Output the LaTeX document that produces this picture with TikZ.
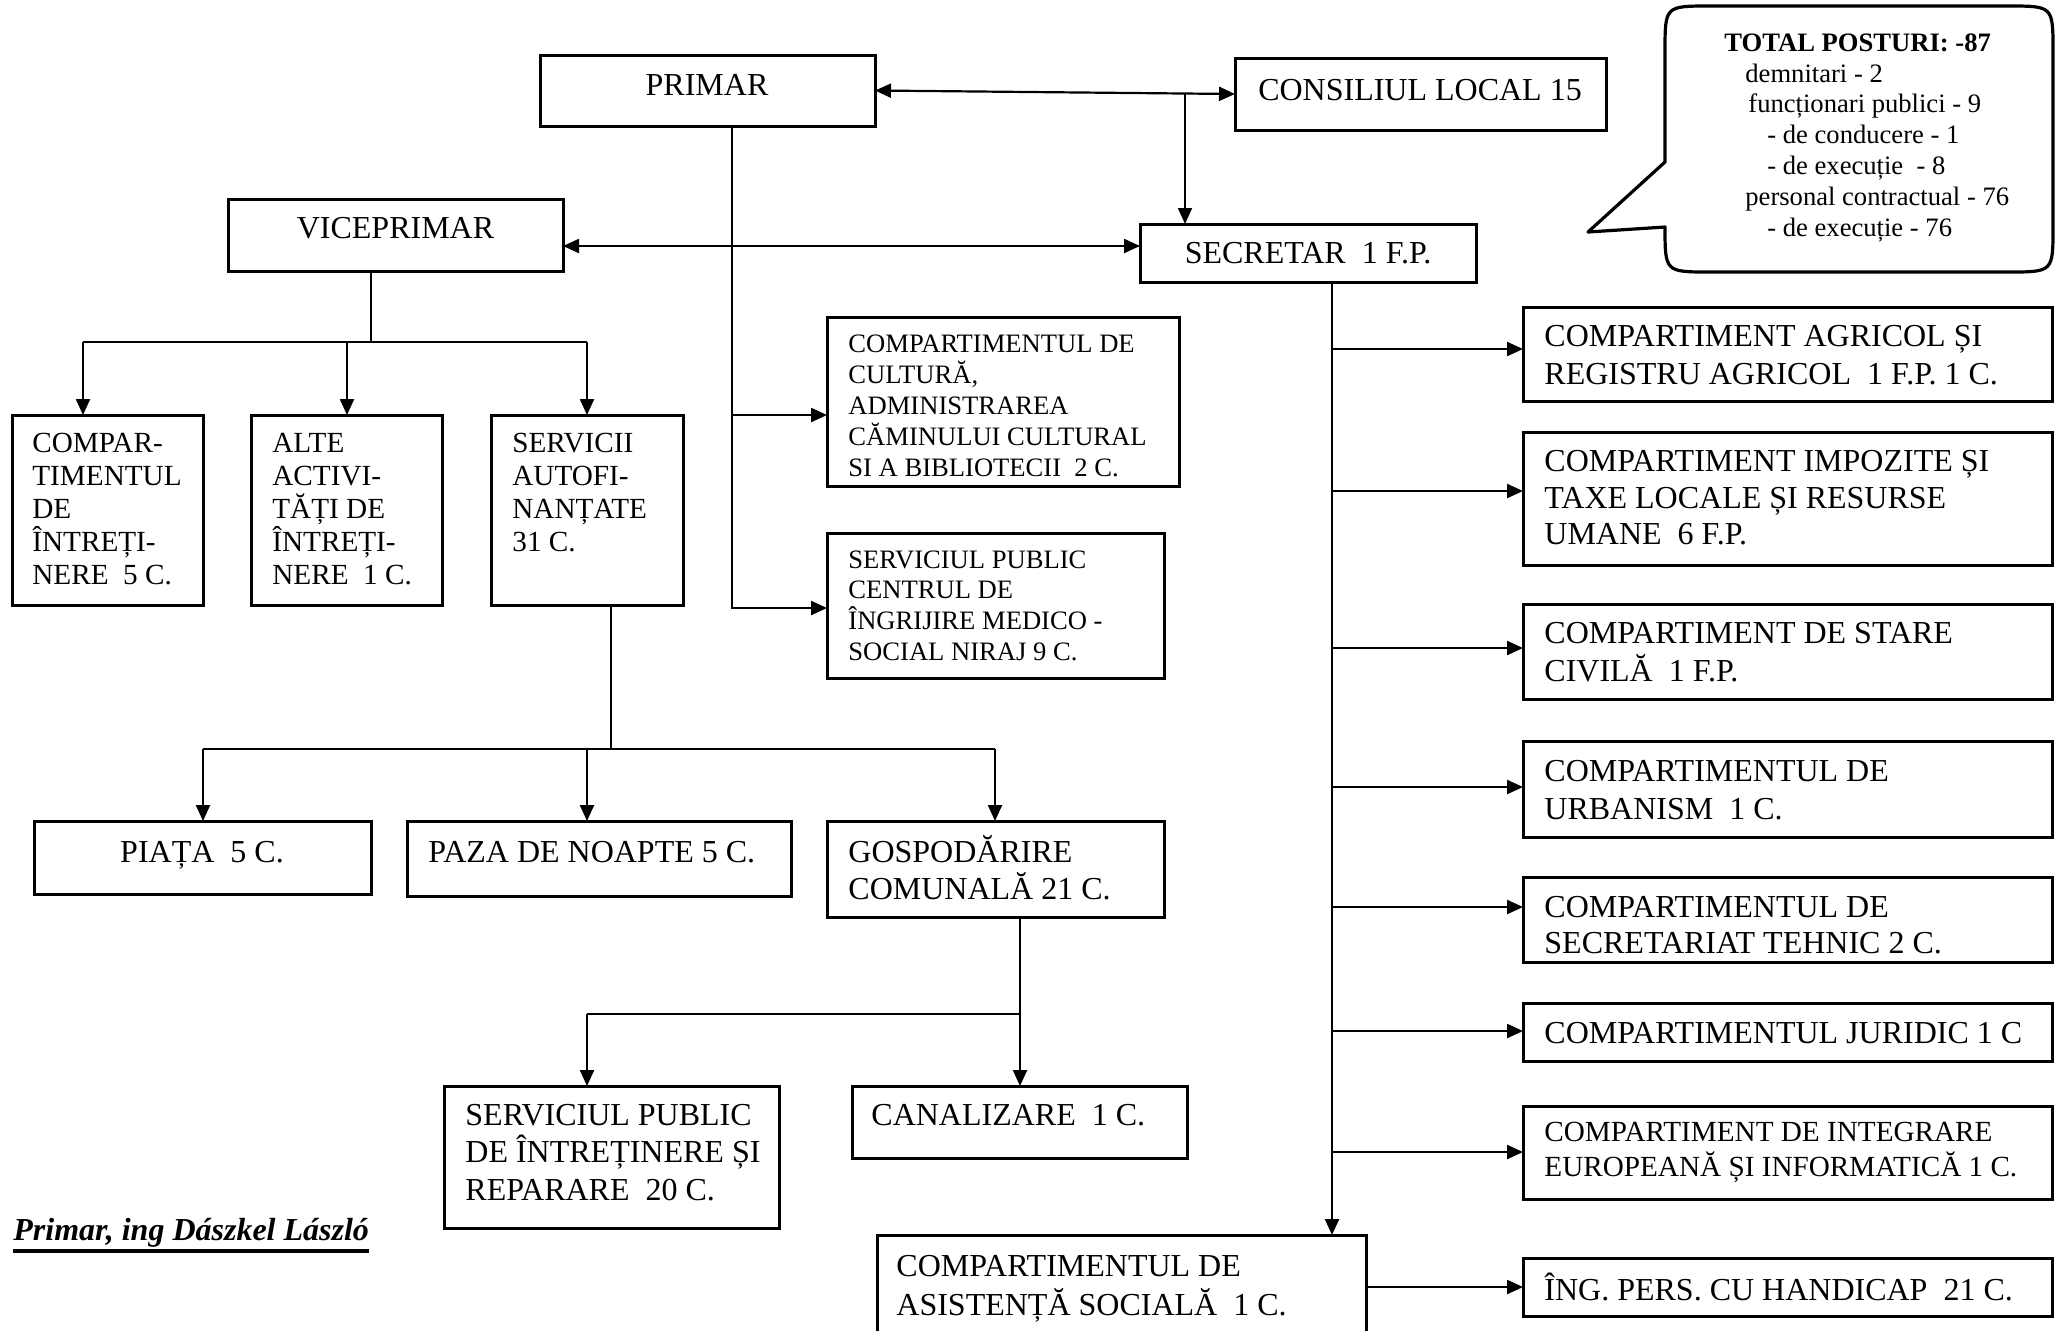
\documentclass[tikz,border=0pt]{standalone}
\usepackage{fontspec}
\setmainfont{Liberation Serif}
\usetikzlibrary{arrows.meta}
\frenchspacing
\tikzset{
  box/.style={draw, line width=1.5pt, inner sep=0pt, outer sep=0pt, anchor=north west},
  tx/.style={anchor=base west, align=left, inner sep=0pt, font=\fontsize{16}{19}\selectfont},
  txc/.style={anchor=base, inner sep=0pt, font=\fontsize{16}{19}\selectfont},
  ln/.style={line width=1.1pt},
  tip/.tip={Triangle[length=8pt,width=7pt]},
  arr/.style={line width=1.1pt, -tip},
  darr/.style={line width=1.1pt, tip-tip},
}
\newcommand\bx[5]{\node[box, minimum width={(#4-#2)*0.5pt}, minimum height={(#5-#3)*0.5pt}] (#1) at (#2,#3) {};}
\begin{document}
\begin{tikzpicture}[x=0.5pt,y=-0.5pt]
\useasboundingbox (0,0) rectangle (2064,1330);

% (multi-line text nodes are placed by the baseline of their LAST line)

% ---- top level
\bx{primar}{540}{55}{875}{126}
\node[txc] (primar-t) at (707,95) {PRIMAR};
\bx{consiliu}{1235}{58}{1606}{130}
\node[txc] (consiliu-t) at (1420,100) {CONSILIUL LOCAL 15};
\bx{vice}{228}{199}{563}{271}
\node[txc] (vice-t) at (395.5,238.5) {VICEPRIMAR};
\bx{secr}{1140}{224}{1476}{282}
\node[txc] (secr-t) at (1308,263) {SECRETAR\ \ 1 F.P.};

% ---- primar branch
\bx{cult}{827}{317}{1179}{486}
\node[tx, font=\fontsize{13.3}{15.5}\selectfont] (cult-t) at (848,476)
  {COMPARTIMENTUL DE\\CULTURĂ,\\ADMINISTRAREA\\CĂMINULUI CULTURAL\\SI A BIBLIOTECII\ \ 2 C.};
\bx{centru}{827}{533}{1164}{678}
\node[tx, font=\fontsize{13.3}{15.3}\selectfont] (centru-t) at (848,660)
  {SERVICIUL PUBLIC\\CENTRUL DE\\ÎNGRIJIRE MEDICO -\\SOCIAL NIRAJ 9 C.};

% ---- viceprimar branch
\bx{ci}{12}{415}{203}{605}
\node[tx, font=\fontsize{14.6}{16.5}\selectfont] (ci-t) at (32,584) {COMPAR-\\TIMENTUL\\DE\\ÎNTREȚI-\\NERE\ \ 5 C.};
\bx{alte}{251}{415}{442}{605}
\node[tx, font=\fontsize{14.6}{16.5}\selectfont] (alte-t) at (272,584) {ALTE\\ACTIVI-\\TĂȚI DE\\ÎNTREȚI-\\NERE\ \ 1 C.};
\bx{serv}{491}{415}{683}{605}
\node[tx, font=\fontsize{14.6}{16.5}\selectfont] (serv-t) at (512,551) {SERVICII\\AUTOFI-\\NANȚATE\\31 C.};

\bx{piata}{34}{821}{371}{894}
\node[txc] (piata-t) at (202,862) {PIAȚA\ \ 5 C.};
\bx{paza}{407}{821}{791}{896}
\node[tx] (paza-t) at (428,862) {PAZA DE NOAPTE 5 C.};
\bx{gosp}{827}{821}{1164}{917}
\node[tx, font=\fontsize{16}{18.5}\selectfont] (gosp-t) at (848,899) {GOSPODĂRIRE\\COMUNALĂ 21 C.};

\bx{spint}{444}{1086}{779}{1228}
\node[tx, font=\fontsize{16}{18.7}\selectfont] (spint-t) at (465,1200) {SERVICIUL PUBLIC\\DE ÎNTREȚINERE ȘI\\REPARARE\ \ 20 C.};
\bx{canal}{852}{1086}{1187}{1158}
\node[tx] (canal-t) at (871,1125) {CANALIZARE\ \ 1 C.};

% ---- secretar branch
\bx{agr}{1523}{307}{2052}{401}
\node[tx] (agr-t) at (1544,384.5) {COMPARTIMENT AGRICOL ȘI\\REGISTRU AGRICOL\ \ 1 F.P. 1 C.};
\bx{imp}{1523}{432}{2052}{565}
\node[tx, font=\fontsize{16}{18.3}\selectfont] (imp-t) at (1544,544.7) {COMPARTIMENT IMPOZITE ȘI\\TAXE LOCALE ȘI RESURSE\\UMANE\ \ 6 F.P.};
\bx{stare}{1523}{604}{2052}{699}
\node[tx] (stare-t) at (1544,681.5) {COMPARTIMENT DE STARE\\CIVILĂ\ \ 1 F.P.};
\bx{urb}{1523}{741}{2052}{837}
\node[tx] (urb-t) at (1544,819.5) {COMPARTIMENTUL DE\\URBANISM\ \ 1 C.};
\bx{sect}{1523}{877}{2052}{962}
\node[tx, font=\fontsize{16}{17.8}\selectfont] (sect-t) at (1544,953) {COMPARTIMENTUL DE\\SECRETARIAT TEHNIC 2 C.};
\bx{jur}{1523}{1003}{2052}{1061}
\node[tx] (jur-t) at (1544,1043.5) {COMPARTIMENTUL JURIDIC 1 C};
\bx{integ}{1523}{1106}{2052}{1199}
\node[tx, font=\fontsize{14.6}{17.8}\selectfont] (integ-t) at (1544,1176.6) {COMPARTIMENT DE INTEGRARE\\EUROPEANĂ ȘI INFORMATICĂ 1 C.};
\bx{asist}{877}{1235}{1366}{1345}
\node[tx, font=\fontsize{16}{19.5}\selectfont] (asist-t) at (896,1315) {COMPARTIMENTUL DE\\ASISTENȚĂ SOCIALĂ\ \ 1 C.};
\bx{ing}{1523}{1258}{2052}{1316}
\node[tx] (ing-t) at (1544,1300) {ÎNG. PERS. CU HANDICAP\ \ 21 C.};

% ---- connectors: top
\draw[darr] (primar.east) -- (consiliu.west);
\coordinate (cj) at (1185,93.5);
\draw[arr, line width=0.9pt] (cj) -- (secr.north -| cj);
\draw[darr] (vice.east |- 0,246) -- (secr.west |- 0,246);

% primar trunk
\coordinate (pt) at (primar.south -| 732,0);
\draw[arr] (pt) |- (cult.west |- 0,415);
\draw[arr] (pt) |- (centru.west |- 0,608);

% viceprimar bus
\coordinate (vb) at (371,342);
\draw[ln] (vice.south -| vb) -- (vb);
\draw[ln] (83,342) -- (587,342);
\draw[arr] (83,342) -- (ci.north -| 83,0);
\draw[arr] (347,342) -- (alte.north -| 347,0);
\draw[arr] (587,342) -- (serv.north -| 587,0);

% servicii bus
\coordinate (sb) at (611,749);
\draw[ln] (serv.south -| sb) -- (sb);
\draw[ln] (203,749) -- (995,749);
\draw[arr] (203,749) -- (piata.north -| 203,0);
\draw[arr] (587,749) -- (paza.north -| 587,0);
\draw[arr] (995,749) -- (gosp.north -| 995,0);

% gospodarire bus
\coordinate (gb) at (1020,1014);
\draw[ln] (gosp.south -| gb) -- (gb);
\draw[ln] (587,1014) -- (gb);
\draw[arr] (587,1014) -- (spint.north -| 587,0);
\draw[arr] (gb) -- (canal.north -| gb);

% secretar trunk
\coordinate (st) at (secr.south -| 1332,0);
\draw[arr] (st) -- (asist.north -| st);
\draw[arr] (1332,349) -- (agr.west |- 0,349);
\draw[arr] (1332,491) -- (imp.west |- 0,491);
\draw[arr] (1332,648) -- (stare.west |- 0,648);
\draw[arr] (1332,787) -- (urb.west |- 0,787);
\draw[arr] (1332,907) -- (sect.west |- 0,907);
\draw[arr] (1332,1031) -- (jur.west |- 0,1031);
\draw[arr] (1332,1152) -- (integ.west |- 0,1152);
\draw[arr] (asist.east |- ing.west) -- (ing.west);

% ---- callout bubble
\draw[line width=1.6pt, line join=round]
  (1588,232) -- (1665,162) -- (1665,51) .. controls (1665,6) .. (1710,6) -- (2008,6)
  .. controls (2053,6) .. (2053,51) -- (2053,227) .. controls (2053,272) .. (2008,272)
  -- (1710,272) .. controls (1665,272) .. (1665,227) -- cycle;
\node[tx, font=\fontsize{13.3}{15.4}\selectfont] (bubble-t) at (1724,236)
  {\textbf{TOTAL POSTURI: -87}\\
   \hspace*{10.5pt}demnitari - 2\\
   \hspace*{12pt}funcționari publici - 9\\
   \hspace*{21.5pt}- de conducere - 1\\
   \hspace*{21.5pt}- de execuție\ \ - 8\\
   \hspace*{10.5pt}personal contractual - 76\\
   \hspace*{21.5pt}- de execuție - 76};

% ---- signature
\node[tx] (sign) at (13,1240) {\textbf{\textit{Primar, ing Dászkel László}}};
\draw[line width=1.8pt] ([yshift=-5.5pt]sign.base west) -- ([yshift=-5.5pt]sign.base east);
\end{tikzpicture}
\end{document}
